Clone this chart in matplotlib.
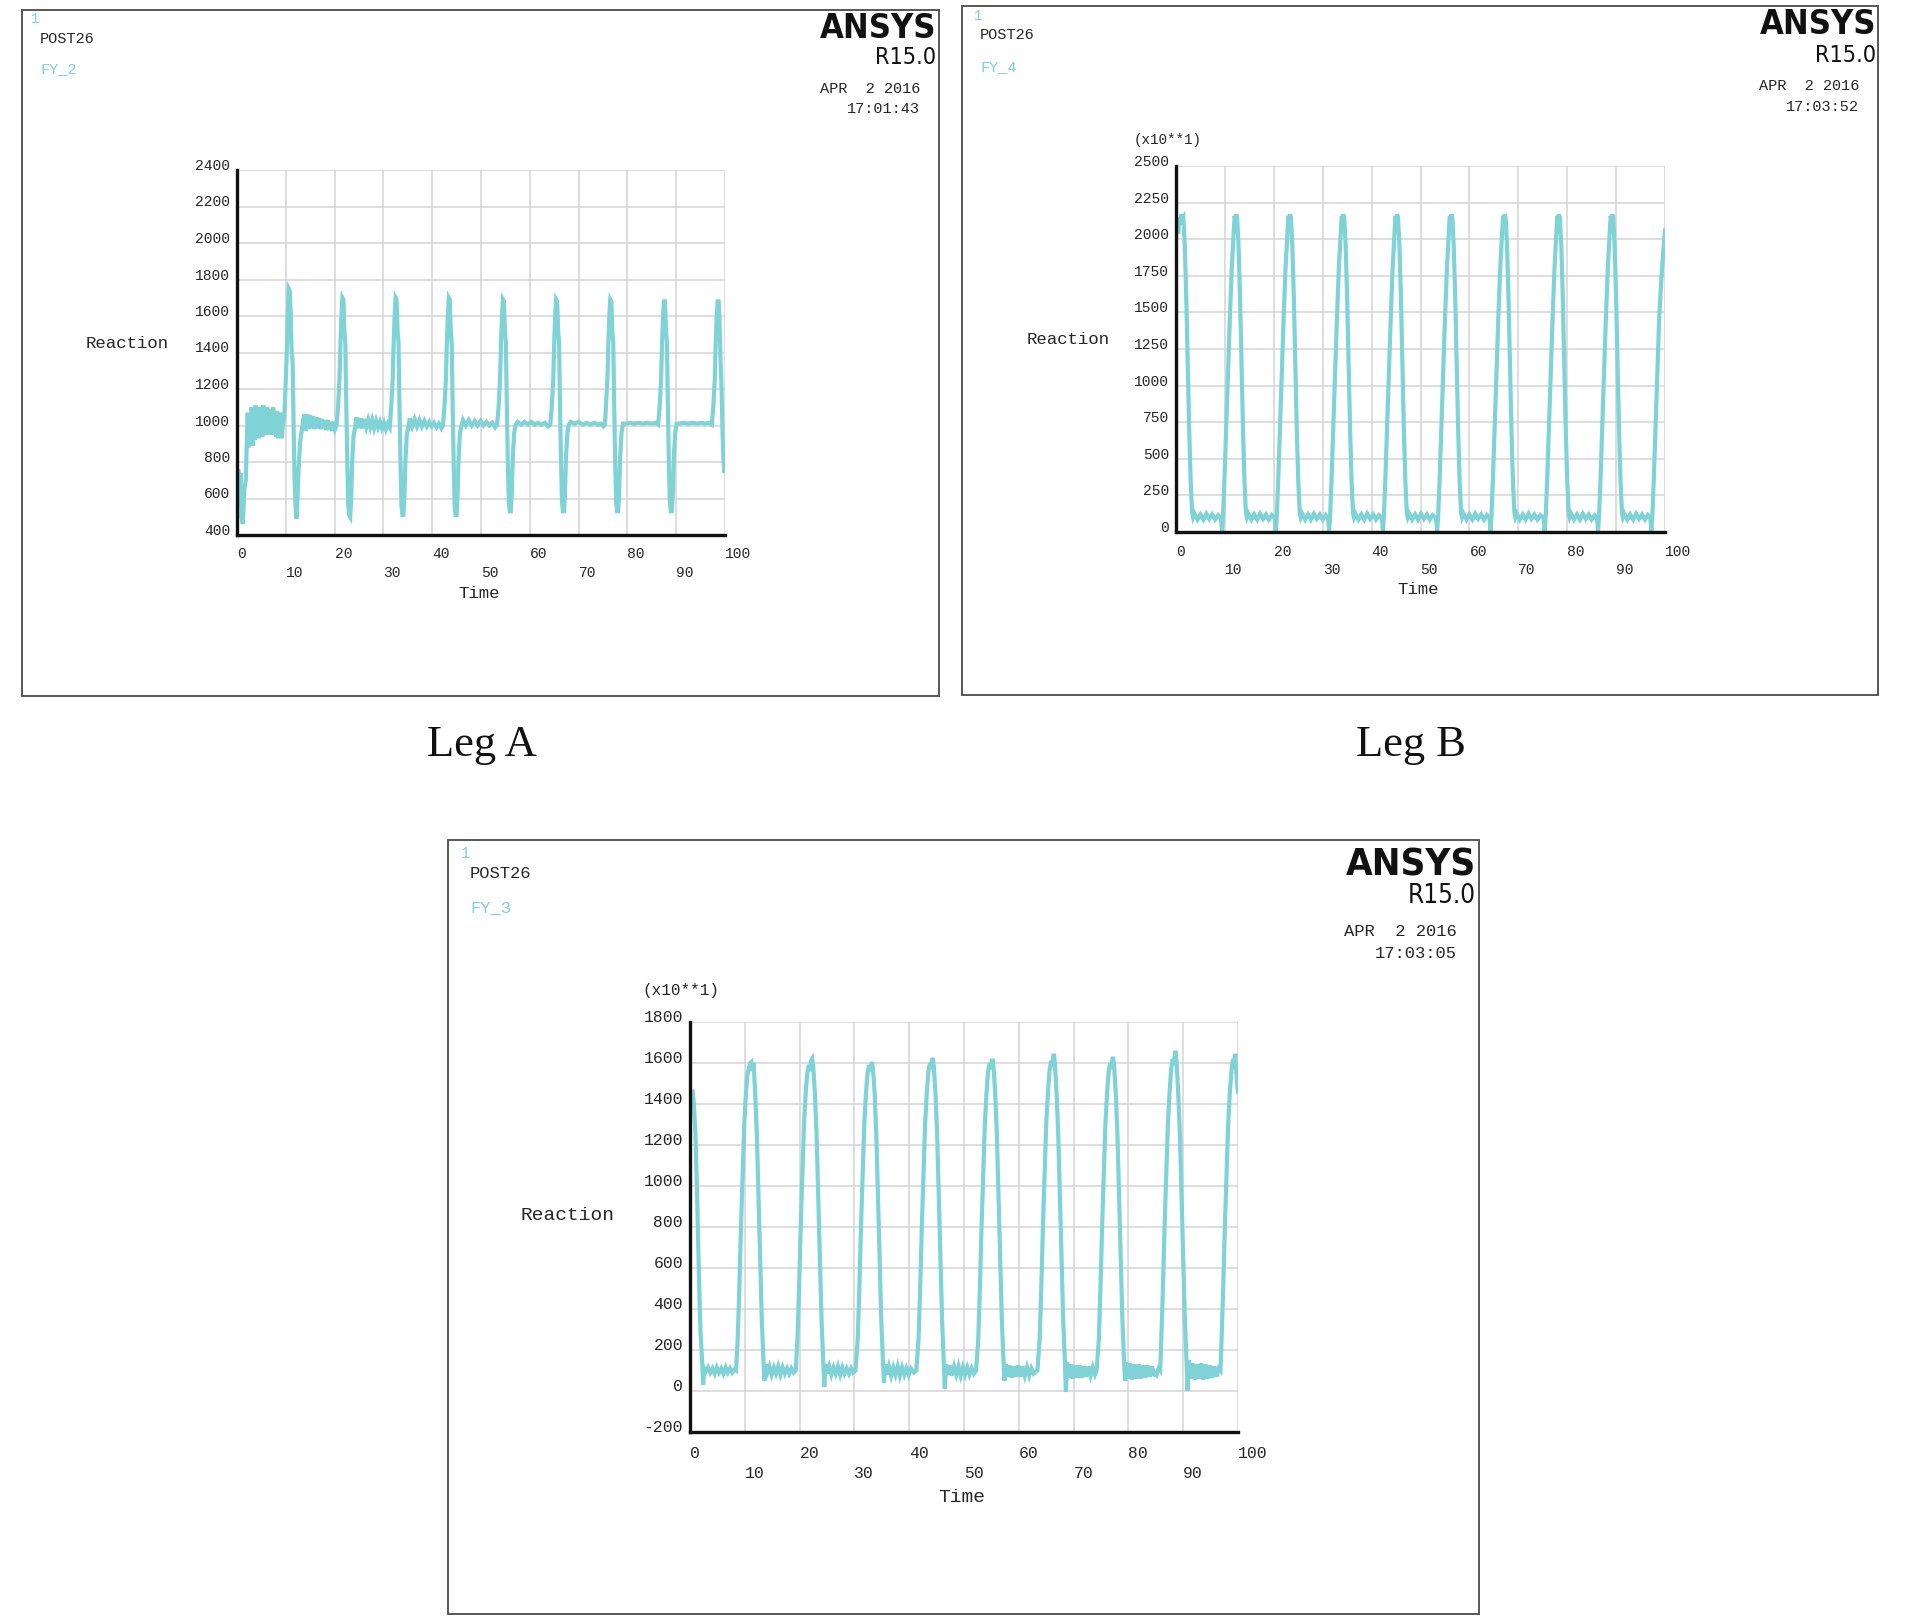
import matplotlib
matplotlib.use("Agg")
import matplotlib.pyplot as plt
from matplotlib.patches import Rectangle
from matplotlib import font_manager as fm

W, H = 1905, 1620
CYAN = "#7fd3d7"
INK = "#262626"
GRID = "#d4d4d4"
MONO = ["Liberation Mono", "DejaVu Sans Mono"]
SERIF = ["Liberation Serif", "DejaVu Serif"]

# ---- Leg A : FY_2 (Reaction, plain units) ----
a_time = [
    0.3, 0.5, 0.7, 0.9, 1.2, 1.5, 1.8, 2.0, 2.2, 2.4, 2.6, 2.8, 3.0, 3.2, 3.4, 3.6, 3.8, 4.0, 4.2, 4.4, 4.6, 4.8,
    5.0, 5.2, 5.4, 5.6, 5.8, 6.0, 6.2, 6.4, 6.6, 6.8, 7.0, 7.2, 7.4, 7.6, 7.8, 8.0, 8.2, 8.4, 8.6, 8.8, 9.0, 9.2, 9.4,
    9.7, 10.0, 10.2, 10.4, 10.6, 10.8, 11.0, 11.2, 11.4, 11.6, 11.8, 12.0, 12.2, 12.4, 12.6, 12.9, 13.2, 13.5,
    13.8, 14.1, 14.4, 14.7, 15.0, 15.3, 15.6, 15.9, 16.2, 16.5, 16.8, 17.1, 17.4, 17.7, 18.0, 18.3, 18.6, 18.9, 19.2, 19.5, 19.8, 20.1, 20.4,
    20.7, 21.0, 21.2, 21.4, 21.6, 21.8, 22.0, 22.2, 22.4, 22.6, 22.8, 23.0, 23.2, 23.4, 23.6, 23.9, 24.2,
    24.5, 24.9, 25.3, 25.7, 26.1, 26.5, 26.9, 27.3, 27.7, 28.1, 28.5, 28.9, 29.3, 29.7, 30.1, 30.5, 30.9, 31.3,
    31.6, 31.9, 32.1, 32.3, 32.5, 32.7, 32.9, 33.1, 33.3, 33.5, 33.7, 33.9, 34.1, 34.3, 34.5, 34.8, 35.1,
    35.4, 35.9, 36.4, 36.9, 37.4, 37.9, 38.4, 38.9, 39.4, 39.9, 40.4, 40.9, 41.4, 41.9, 42.2,
    42.5, 42.8, 43.0, 43.2, 43.4, 43.6, 43.8, 44.0, 44.2, 44.4, 44.6, 44.8, 45.0, 45.2, 45.4, 45.7, 46.0,
    46.3, 46.9, 47.5, 48.1, 48.7, 49.3, 49.9, 50.5, 51.1, 51.7, 52.3, 52.9, 53.3,
    53.6, 53.9, 54.1, 54.3, 54.5, 54.7, 54.9, 55.1, 55.3, 55.5, 55.7, 55.9, 56.1, 56.3, 56.5, 56.8, 57.1,
    57.5, 58.2, 58.9, 59.6, 60.3, 61.0, 61.7, 62.4, 63.1, 63.7, 64.2,
    64.5, 64.8, 65.0, 65.2, 65.4, 65.6, 65.8, 66.0, 66.2, 66.4, 66.6, 66.8, 67.0, 67.2, 67.4, 67.7, 68.0,
    68.4, 69.2, 70.0, 70.8, 71.6, 72.4, 73.2, 74.0, 74.6, 75.1, 75.4,
    75.6, 75.9, 76.1, 76.3, 76.5, 76.7, 76.9, 77.1, 77.3, 77.5, 77.7, 77.9, 78.1, 78.3, 78.5, 78.8, 79.1,
    79.6, 80.5, 81.4, 82.3, 83.2, 84.1, 85.0, 85.8, 86.3,
    86.6, 86.9, 87.1, 87.3, 87.5, 87.7, 87.9, 88.1, 88.3, 88.5, 88.7, 88.9, 89.1, 89.3, 89.5, 89.8, 90.1,
    90.6, 91.5, 92.4, 93.3, 94.2, 95.1, 96.0, 96.8, 97.3,
    97.6, 97.9, 98.1, 98.3, 98.5, 98.7, 98.9, 99.1, 99.3, 99.5, 99.7, 99.9, 100.0,
]
a_force = [
    750, 600, 740, 500, 460, 650, 700, 900, 1070, 880, 1060, 900, 1100, 890, 1090, 920, 1110, 950, 1080, 930, 1100, 950,
    1090, 940, 1110, 950, 1080, 950, 1100, 950, 1070, 960, 1090, 950, 1100, 950, 1060, 940, 1080, 930, 1050, 940, 1070, 930, 1000,
    1050, 1250, 1400, 1600, 1750, 1740, 1620, 1400, 1350, 1000, 700, 560, 490, 600, 750, 900, 960, 1020,
    1060, 970, 1060, 980, 1055, 985, 1050, 980, 1045, 985, 1040, 980, 1035, 985, 1030, 975, 1030, 975, 1020, 970, 1020, 980, 1000,
    1100, 1250, 1450, 1600, 1700, 1690, 1520, 1450, 1100, 800, 560, 510, 500, 600, 800, 950, 990,
    1045, 985, 1040, 985, 1035, 990, 1030, 990, 1030, 985, 1025, 990, 1020, 985, 1015, 980, 1010, 990,
    1100, 1250, 1450, 1600, 1700, 1690, 1520, 1450, 1100, 800, 560, 510, 510, 600, 800, 950, 990,
    1040, 995, 1035, 995, 1030, 995, 1025, 995, 1020, 995, 1015, 990, 1010, 985, 1000,
    1100, 1250, 1450, 1600, 1700, 1690, 1520, 1450, 1100, 800, 560, 510, 510, 620, 820, 960, 1000,
    1030, 1000, 1030, 1000, 1025, 1000, 1025, 1000, 1020, 1000, 1015, 990, 1005,
    1100, 1250, 1450, 1600, 1690, 1680, 1520, 1450, 1100, 800, 580, 530, 530, 620, 820, 960, 1005,
    1020, 1005, 1020, 1005, 1020, 1005, 1015, 1005, 1015, 995, 1005,
    1100, 1250, 1450, 1600, 1690, 1680, 1520, 1450, 1100, 800, 580, 530, 530, 620, 820, 960, 1005,
    1020, 1010, 1020, 1005, 1015, 1005, 1015, 1005, 1010, 995, 1005,
    1100, 1250, 1450, 1600, 1690, 1680, 1520, 1450, 1100, 800, 580, 530, 530, 620, 820, 960, 1010,
    1010, 1015, 1010, 1015, 1010, 1015, 1010, 1015, 1005,
    1100, 1250, 1450, 1600, 1680, 1680, 1520, 1450, 1100, 800, 580, 530, 530, 620, 820, 960, 1010,
    1010, 1015, 1010, 1015, 1010, 1015, 1010, 1015, 1005,
    1100, 1250, 1450, 1600, 1680, 1680, 1550, 1350, 1200, 950, 800, 740, 760,
]

# ---- Leg B : FY_4 (Reaction x10) ----
b_time = [
    0.5, 0.7, 0.9, 1.1, 1.3, 1.5, 1.8, 2.1, 2.4, 2.7, 3.0, 3.3, 3.5,
    3.8, 4.4, 5.0, 5.6, 6.2, 6.8, 7.4, 8.0, 8.6, 9.2, 9.4, 9.6,
    9.9, 10.2, 10.6, 11.0, 11.4, 11.8, 12.0, 12.15, 12.3,
    12.5, 12.8, 13.1, 13.4, 13.7, 14.0, 14.3, 14.5,
    14.8, 15.4, 16.0, 16.6, 17.2, 17.8, 18.4, 19.0, 19.6, 20.2, 20.4, 20.6,
    20.9, 21.2, 21.6, 22.0, 22.4, 22.8, 23.0, 23.15, 23.3,
    23.5, 23.8, 24.1, 24.4, 24.7, 25.0, 25.3, 25.5,
    25.8, 26.4, 27.0, 27.6, 28.2, 28.8, 29.4, 30.0, 30.6, 31.1, 31.3, 31.5,
    31.8, 32.1, 32.5, 32.9, 33.3, 33.7, 33.9, 34.05, 34.2,
    34.4, 34.7, 35.0, 35.3, 35.6, 35.9, 36.2, 36.4,
    36.7, 37.3, 37.9, 38.5, 39.1, 39.7, 40.3, 40.9, 41.5, 42.1, 42.3, 42.5,
    42.8, 43.1, 43.5, 43.9, 44.3, 44.7, 44.9, 45.05, 45.2,
    45.4, 45.7, 46.0, 46.3, 46.6, 46.9, 47.2, 47.4,
    47.7, 48.3, 48.9, 49.5, 50.1, 50.7, 51.3, 51.9, 52.5, 53.2, 53.4, 53.6,
    53.9, 54.2, 54.6, 55.0, 55.4, 55.8, 56.0, 56.15, 56.3,
    56.5, 56.8, 57.1, 57.4, 57.7, 58.0, 58.3, 58.5,
    58.8, 59.4, 60.0, 60.6, 61.2, 61.8, 62.4, 63.0, 63.6, 64.1, 64.3, 64.5,
    64.8, 65.1, 65.5, 65.9, 66.3, 66.7, 66.9, 67.05, 67.2,
    67.4, 67.7, 68.0, 68.3, 68.6, 68.9, 69.2, 69.4,
    69.7, 70.3, 70.9, 71.5, 72.1, 72.7, 73.3, 73.9, 74.5, 75.2, 75.4, 75.6,
    75.9, 76.2, 76.6, 77.0, 77.4, 77.8, 78.0, 78.15, 78.3,
    78.5, 78.8, 79.1, 79.4, 79.7, 80.0, 80.3, 80.5,
    80.8, 81.4, 82.0, 82.6, 83.2, 83.8, 84.4, 85.0, 85.6, 86.1, 86.3, 86.5,
    86.8, 87.1, 87.5, 87.9, 88.3, 88.7, 88.9, 89.05, 89.2,
    89.4, 89.7, 90.0, 90.3, 90.6, 90.9, 91.2, 91.4,
    91.7, 92.3, 92.9, 93.5, 94.1, 94.7, 95.3, 95.9, 96.5, 97.0, 97.2, 97.4,
    97.7, 98.0, 98.4, 98.8, 99.2, 99.6, 100.0,
]
b_force = [
    2050, 2150, 2100, 2170, 2140, 2150, 1950, 1600, 1150, 700, 350, 130, 100,
    125, 85, 120, 85, 125, 90, 120, 85, 115, 95, 10, 100,
    350, 650, 1050, 1450, 1800, 2050, 2160, 2120, 2170,
    2150, 1950, 1600, 1150, 700, 350, 130, 100,
    125, 85, 120, 85, 125, 90, 120, 85, 115, 95, 5, 100,
    350, 650, 1050, 1450, 1800, 2050, 2160, 2120, 2170,
    2150, 1950, 1600, 1150, 700, 350, 130, 100,
    125, 85, 120, 85, 125, 90, 120, 85, 115, 95, 10, 100,
    350, 650, 1050, 1450, 1800, 2050, 2160, 2120, 2170,
    2150, 1950, 1600, 1150, 700, 350, 130, 100,
    125, 85, 120, 85, 125, 90, 120, 85, 115, 95, 10, 100,
    350, 650, 1050, 1450, 1800, 2050, 2160, 2120, 2170,
    2150, 1950, 1600, 1150, 700, 350, 130, 100,
    125, 85, 120, 85, 125, 90, 120, 85, 115, 95, 5, 100,
    350, 650, 1050, 1450, 1800, 2050, 2160, 2120, 2170,
    2150, 1950, 1600, 1150, 700, 350, 130, 100,
    125, 85, 120, 85, 125, 90, 120, 85, 115, 95, 10, 100,
    350, 650, 1050, 1450, 1800, 2050, 2160, 2120, 2170,
    2150, 1950, 1600, 1150, 700, 350, 130, 100,
    125, 85, 120, 85, 125, 90, 120, 85, 115, 95, 5, 100,
    350, 650, 1050, 1450, 1800, 2050, 2160, 2120, 2170,
    2150, 1950, 1600, 1150, 700, 350, 130, 100,
    125, 85, 120, 85, 125, 90, 120, 85, 115, 95, 10, 100,
    350, 650, 1050, 1450, 1800, 2050, 2160, 2120, 2170,
    2150, 1950, 1600, 1150, 700, 350, 130, 100,
    125, 85, 120, 85, 125, 90, 120, 85, 115, 95, 10, 100,
    350, 650, 1050, 1450, 1700, 1900, 2060,
]

# ---- Leg C : FY_3 (Reaction x10) ----
c_time = [
    0.5, 0.7, 1.0, 1.3, 1.6, 1.9, 2.2, 2.4, 2.6,
    2.9, 3.3, 3.7, 4.1, 4.5, 4.9, 5.3, 5.7, 6.1, 6.5, 6.9, 7.3, 7.7, 8.1, 8.4,
    8.7, 9.0, 9.3, 9.6, 9.9, 10.2, 10.5, 10.8, 11.0, 11.2, 11.4, 11.6,
    11.9, 12.2, 12.5, 12.8, 13.1, 13.4, 13.6, 13.8,
    14.1, 14.5, 14.9, 15.3, 15.7, 16.1, 16.5, 16.9, 17.3, 17.7, 18.1, 18.5, 18.9, 19.3,
    19.6, 19.9, 20.2, 20.5, 20.8, 21.1, 21.4, 21.7, 21.9, 22.1, 22.3, 22.5,
    22.8, 23.1, 23.4, 23.7, 24.0, 24.3, 24.5, 24.7,
    25.0, 25.4, 25.8, 26.2, 26.6, 27.0, 27.4, 27.8, 28.2, 28.6, 29.0, 29.4, 29.8, 30.2,
    30.6, 30.9, 31.2, 31.5, 31.8, 32.1, 32.4, 32.7, 32.9, 33.1, 33.2, 33.4,
    33.7, 34.0, 34.3, 34.6, 34.9, 35.2, 35.4, 35.6,
    35.9, 36.3, 36.7, 37.1, 37.5, 37.9, 38.3, 38.7, 39.1, 39.5, 39.9, 40.3, 40.9, 41.3,
    41.7, 42.0, 42.3, 42.6, 42.9, 43.2, 43.5, 43.8, 44.0, 44.2, 44.3, 44.5,
    44.8, 45.1, 45.4, 45.7, 46.0, 46.3, 46.5, 46.7,
    47.0, 47.4, 47.8, 48.2, 48.6, 49.0, 49.4, 49.8, 50.2, 50.6, 51.0, 51.4, 51.8, 52.2,
    52.6, 52.9, 53.2, 53.5, 53.8, 54.1, 54.4, 54.7, 54.9, 55.1, 55.2, 55.4,
    55.7, 56.0, 56.3, 56.6, 56.9, 57.2, 57.4, 57.6,
    57.9, 58.3, 58.7, 59.1, 59.5, 59.9, 60.3, 60.7, 61.1, 61.5, 61.9, 62.3, 62.7, 63.4,
    63.8, 64.1, 64.4, 64.7, 65.0, 65.3, 65.6, 65.9, 66.1, 66.3, 66.4, 66.6,
    66.9, 67.2, 67.5, 67.8, 68.1, 68.4, 68.6, 68.8,
    69.1, 69.5, 69.9, 70.3, 70.7, 71.1, 71.5, 71.9, 72.3, 72.7, 73.1, 73.5, 73.9, 74.2,
    74.6, 74.9, 75.2, 75.5, 75.8, 76.1, 76.4, 76.7, 76.9, 77.1, 77.2, 77.4,
    77.7, 78.0, 78.3, 78.6, 78.9, 79.2, 79.4, 79.6,
    79.9, 80.3, 80.7, 81.1, 81.5, 81.9, 82.3, 82.7, 83.1, 83.5, 83.9, 84.3, 84.7, 85.1, 85.5, 85.8,
    86.0, 86.3, 86.6, 86.9, 87.2, 87.5, 87.8, 88.1, 88.3, 88.5, 88.6, 88.8,
    89.1, 89.4, 89.7, 90.0, 90.3, 90.6, 90.8, 91.0,
    91.3, 91.7, 92.1, 92.5, 92.9, 93.3, 93.7, 94.1, 94.5, 94.9, 95.3, 95.7, 96.1, 96.5, 96.8,
    97.0, 97.3, 97.6, 97.9, 98.2, 98.5, 98.8, 99.1, 99.3, 99.5, 99.7, 99.9, 100.0,
]
c_force = [
    1460, 1400, 1250, 950, 600, 300, 150, 30, 110,
    95, 115, 90, 110, 85, 115, 90, 110, 85, 115, 90, 110, 90, 105, 100,
    250, 500, 800, 1050, 1300, 1450, 1550, 1580, 1600, 1605, 1560, 1600,
    1450, 1250, 950, 650, 350, 150, 50, 130,
    90, 120, 80, 115, 85, 120, 80, 115, 85, 110, 85, 110, 90, 100,
    250, 500, 800, 1050, 1300, 1450, 1550, 1590, 1560, 1610, 1620, 1580,
    1450, 1250, 950, 650, 350, 150, 20, 130,
    85, 120, 80, 115, 85, 120, 80, 115, 85, 110, 85, 110, 90, 100,
    250, 500, 800, 1050, 1300, 1450, 1550, 1590, 1560, 1595, 1605, 1570,
    1450, 1250, 950, 650, 350, 150, 40, 130,
    80, 120, 75, 115, 80, 120, 75, 115, 80, 110, 80, 110, 90, 100,
    250, 500, 800, 1050, 1300, 1450, 1560, 1600, 1570, 1615, 1625, 1580,
    1450, 1250, 950, 650, 350, 150, 10, 130,
    80, 125, 75, 120, 80, 120, 75, 115, 80, 115, 80, 110, 85, 100,
    250, 500, 800, 1050, 1300, 1450, 1560, 1600, 1570, 1610, 1620, 1580,
    1450, 1250, 950, 650, 350, 150, 50, 130,
    70, 125, 65, 120, 70, 125, 70, 120, 75, 115, 75, 110, 85, 100,
    250, 500, 800, 1050, 1300, 1450, 1560, 1610, 1580, 1635, 1645, 1590,
    1450, 1250, 950, 650, 350, 150, -5, 140,
    65, 130, 60, 125, 65, 125, 65, 120, 70, 120, 75, 115, 80, 100,
    250, 500, 800, 1050, 1300, 1450, 1560, 1600, 1570, 1620, 1630, 1580,
    1450, 1250, 950, 650, 350, 150, 50, 140,
    60, 135, 55, 130, 60, 130, 60, 125, 65, 125, 70, 120, 80, 75, 110, 100,
    250, 500, 800, 1050, 1300, 1450, 1570, 1620, 1590, 1645, 1660, 1600,
    1450, 1250, 950, 650, 350, 150, 0, 150,
    60, 135, 55, 130, 60, 135, 55, 130, 60, 125, 65, 120, 70, 110, 100,
    250, 500, 800, 1050, 1300, 1450, 1560, 1620, 1590, 1645, 1550, 1480, 1460,
]

a_yticks = [400, 600, 800, 1000, 1200, 1400, 1600, 1800, 2000, 2200, 2400]
b_yticks = [0, 250, 500, 750, 1000, 1250, 1500, 1750, 2000, 2250, 2500]
c_yticks = [-200, 0, 200, 400, 600, 800, 1000, 1200, 1400, 1600, 1800]
x_ticks = [0, 10, 20, 30, 40, 50, 60, 70, 80, 90, 100]

panels = [
    dict(t=a_time, v=a_force, yticks=a_yticks, name="FY_2", clock="17:01:43", mult=False,
         box=(22, 10, 939, 696), ax=(237, 170, 725, 535),
         one=(31, 19), post=(40, 39), fy=(40, 69),
         ansys=(936, 28), rel=(936, 57), date=(920, 89), clk=(920, 109),
         multpos=None, reaction=(86, 343), time=(479, 594), s=1.0),
    dict(t=b_time, v=b_force, yticks=b_yticks, name="FY_4", clock="17:03:52", mult=True,
         box=(962, 6, 1878, 695), ax=(1176, 166, 1665, 532),
         one=(974, 16), post=(980, 35), fy=(980, 67),
         ansys=(1876, 25), rel=(1876, 55), date=(1859, 86), clk=(1859, 107),
         multpos=(1134, 140), reaction=(1027, 339), time=(1418, 590), s=1.0),
    dict(t=c_time, v=c_force, yticks=c_yticks, name="FY_3", clock="17:03:05", mult=True,
         box=(448, 840, 1479, 1614), ax=(690, 1022, 1238, 1432),
         one=(461, 853), post=(470, 874), fy=(470, 908),
         ansys=(1476, 865), rel=(1476, 896), date=(1457, 931), clk=(1457, 953),
         multpos=(642, 990), reaction=(521, 1215), time=(962, 1497), s=1.12),
]


def narrow_font(bold, k_found):
    # look for an installed narrow / condensed sans face
    for f in fm.fontManager.ttflist:
        name = f.fname.lower()
        if ("narrow" in name or "condensed" in name) and "mono" not in name and "serif" not in name:
            is_bold = f.weight in (600, 700, 800, "bold", "semibold")
            if is_bold == bold and f.style == "normal":
                return fm.FontProperties(fname=f.fname), k_found
    w = "bold" if bold else "normal"
    return fm.FontProperties(family="Liberation Sans", weight=w), 0.8


ANSYS_FP, ANSYS_K = narrow_font(True, 0.88)
REL_FP, REL_K = narrow_font(False, 0.93)


def fxy(p):
    return p[0] / W, 1 - p[1] / H


def draw_panel(fig, p):
    s = p["s"]
    x0, y0, x1, y1 = p["box"]
    fig.add_artist(Rectangle((x0 / W, 1 - y1 / H), (x1 - x0) / W, (y1 - y0) / H,
                             transform=fig.transFigure, fill=False,
                             edgecolor="#4a4a4a", lw=1.3))

    def txt(pos, s_, size, ha="left", color=INK, family=MONO, weight="normal"):
        x, y = fxy(pos)
        fig.text(x, y, s_, ha=ha, va="center", fontsize=size * s, color=color,
                 family=family, fontweight=weight)

    txt(p["one"], "1", 10, color=CYAN)
    txt(p["post"], "POST26", 11)
    txt(p["fy"], p["name"], 11, color=CYAN)
    x, y = fxy(p["ansys"])
    fp = ANSYS_FP.copy()
    fp.set_size(28 * s * ANSYS_K)
    fig.text(x, y, "ANSYS", ha="right", va="center", fontproperties=fp, color="#111111")
    x, y = fxy(p["rel"])
    fp = REL_FP.copy()
    fp.set_size(18 * s * REL_K)
    fig.text(x, y, "R15.0", ha="right", va="center", fontproperties=fp, color="#111111")
    txt(p["date"], "APR  2 2016", 11, ha="right")
    txt(p["clk"], p["clock"], 11, ha="right")
    if p["mult"]:
        txt(p["multpos"], "(x10**1)", 10.3)
    txt(p["reaction"], "Reaction", 12.5)
    txt(p["time"], "Time", 12.5, ha="center")

    l, t, r, b = p["ax"]
    ax = fig.add_axes([l / W, 1 - b / H, (r - l) / W, (b - t) / H])
    ax.plot(p["t"], p["v"], color=CYAN, lw=3.0, solid_joinstyle="miter")
    ax.set_xlim(0, 100)
    ax.set_ylim(p["yticks"][0], p["yticks"][-1])
    ax.set_xticks(x_ticks)
    ax.set_xticklabels([str(v) if i % 2 == 0 else "\n" + str(v) for i, v in enumerate(x_ticks)])
    ax.set_yticks(p["yticks"])
    ax.set_yticklabels([str(v) for v in p["yticks"]])
    ax.grid(True, color=GRID, lw=1.1)
    ax.set_axisbelow(True)
    for side in ("top", "right"):
        ax.spines[side].set_visible(False)
    for side in ("left", "bottom"):
        ax.spines[side].set_linewidth(2.4)
        ax.spines[side].set_color("#111111")
    ax.tick_params(axis="both", length=0, labelsize=10.5 * s, labelcolor=INK)
    ax.tick_params(axis="x", pad=9 * s)
    ax.tick_params(axis="y", pad=5)
    for lbl in ax.get_xticklabels():
        lbl.set_family(MONO)
        lbl.set_ha("left")
        lbl.set_linespacing(1.4)
    for lbl in ax.get_yticklabels():
        lbl.set_family(MONO)
        lbl.set_va("baseline")
    return ax


fig = plt.figure(figsize=(W / 100, H / 100), dpi=100)
fig.patch.set_facecolor("white")
for p in panels:
    draw_panel(fig, p)

fig.text(482 / W, 1 - 745 / H, "Leg A", ha="center", va="center", fontsize=32, family=SERIF, color="#111111")
fig.text(1411 / W, 1 - 745 / H, "Leg B", ha="center", va="center", fontsize=32, family=SERIF, color="#111111")

fig.savefig("out.png", dpi=100)
